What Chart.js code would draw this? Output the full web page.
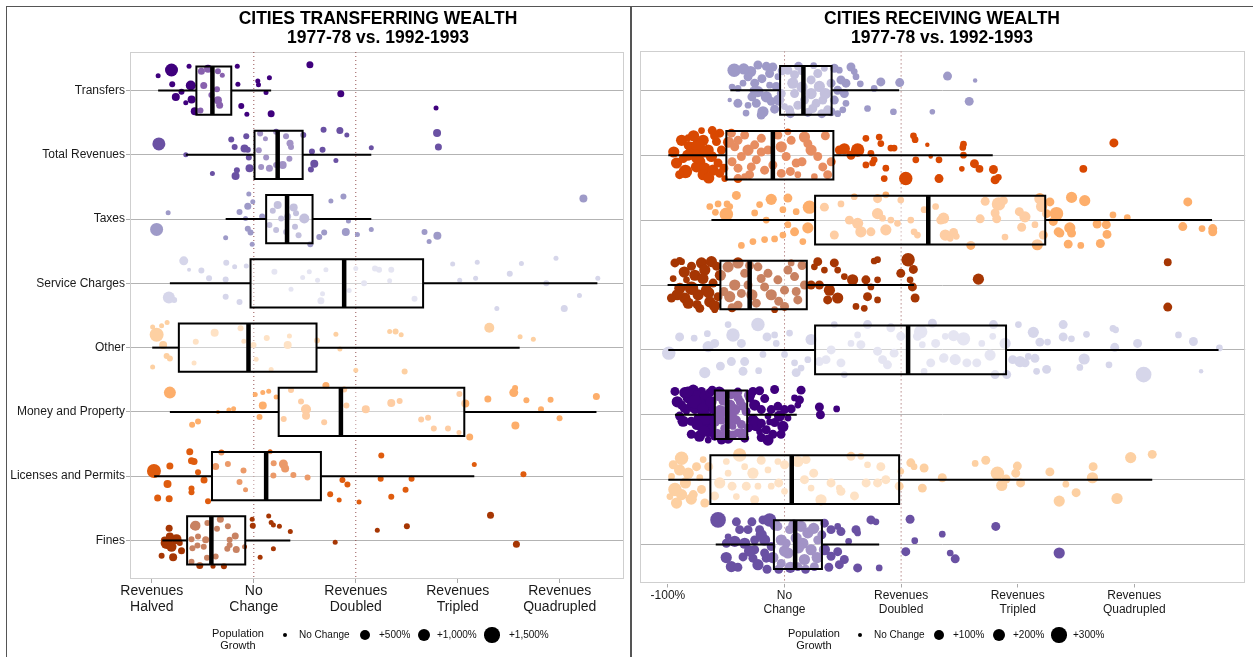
<!DOCTYPE html>
<html><head><meta charset="utf-8">
<script src="https://cdn.jsdelivr.net/npm/chart.js@4.4.1/dist/chart.umd.min.js"></script>
<style>
html,body{margin:0;padding:0;background:#fff;}
#wrap{position:relative;width:1253px;height:657px;overflow:hidden;font-family:"Liberation Sans",Arial,Helvetica,sans-serif;color:#111;background:#fff;}
.frame{position:absolute;border:1px solid #555;box-sizing:border-box;}
canvas{position:absolute;top:0;}
.title{position:absolute;top:9px;font-weight:bold;font-size:17.5px;line-height:19px;text-align:center;white-space:nowrap;transform:translateX(-50%);color:#000;}
.legT{position:absolute;font-size:11px;line-height:12px;text-align:center;white-space:nowrap;transform:translateX(-50%);}
.legL{position:absolute;font-size:10px;line-height:12px;white-space:nowrap;}
.dot{position:absolute;border-radius:50%;background:#000;}
</style></head>
<body><div id="wrap">
<div class="frame" style="left:6px;top:6px;width:625px;height:700px;"></div>
<div class="frame" style="left:631px;top:6px;width:700px;height:700px;"></div>
<canvas id="cL" width="631" height="657" style="left:0;"></canvas>
<canvas id="cR" width="621" height="657" style="left:632px;"></canvas>
<div class="title" style="left:378px;">CITIES TRANSFERRING WEALTH<br>1977-78 vs. 1992-1993</div>
<div class="title" style="left:942px;">CITIES RECEIVING WEALTH<br>1977-78 vs. 1992-1993</div>
<div id="legends"></div>
</div>
<script>
// ---------- categories & ticks ----------
const categories = ["Transfers","Total Revenues","Taxes","Service Charges","Other","Money and Property","Licenses and Permits","Fines"];
const xTickValues = [-100, 0, 100, 200, 300];
const leftTickLabels = [["Revenues","Halved"],["No","Change"],["Revenues","Doubled"],["Revenues","Tripled"],["Revenues","Quadrupled"]];
const rightTickLabels = ["-100%",["No","Change"],["Revenues","Doubled"],["Revenues","Tripled"],["Revenues","Quadrupled"]];
const refLines = [0, 100];

// ---------- box statistics (percent change) ----------
const leftWhiskerLow  = [-93.8,-66.7,-27.6,-82.3,-99.6,-82.3,-97.7,-89.8];
const leftQ1          = [-56.3,  0.7, 12.1, -3.2,-73.5, 24.4,-41.0,-65.4];
const leftMedian      = [-40.6, 23.4, 32.6, 88.6, -5.2, 85.4, 12.1,-41.6];
const leftQ3          = [-22.1, 47.9, 57.6,166.0, 61.5,206.4, 65.8, -8.4];
const leftWhiskerHigh = [ 17.0,115.2,115.2,336.9,260.7,336.0,216.2, 35.8];

const rightWhiskerLow  = [-46.5,-99.7,-62.7,-100.3,-99.7,-94.0,-99.7,-59.0];
const rightQ1          = [ -3.8,-49.9, 26.2, -55.0, 26.2,-59.8,-63.6, -9.1];
const rightMedian      = [ 16.2,-10.0,123.3, -29.9,106.0,-49.1,  6.2,  9.1];
const rightQ3          = [ 40.4, 41.9,223.6,  19.1,190.0,-32.0, 98.3, 32.1];
const rightWhiskerHigh = [ 98.3,178.6,366.7, 111.1,372.3, 10.5,315.4, 81.2];

// ---------- city points: [percent change, vertical jitter, population-growth size] ----------
const transfersL = [[-80.7,-0.32,6.5],[-93.8,-0.23,2.5],[-63.5,-0.38,2.5],[-80,-0.1,3],[-61.8,-0.08,5],[-70.9,0.02,3],[-76.5,0.1,4],[-61,0.14,4],[-66.7,0.19,2.5],[-57.9,0.32,4],[-51.4,-0.3,3.5],[-44.9,-0.34,4],[-35.2,-0.3,3],[-30.9,-0.24,2.5],[-49.1,-0.08,3.5],[-36.1,-0.02,3],[-35.2,0.15,4],[-33.5,0.23,3.5],[-52.3,0.31,3],[-41.6,0.07,3],[-16.2,-0.38,2.5],[-15.6,-0.1,2.5],[-12.3,0.24,3],[-6.8,0.37,2.5],[3.9,-0.15,2.5],[4.6,-0.09,2.5],[15.3,-0.2,2.5],[17,0.36,3.5],[12,0.03,2.5],[55,-0.4,3.5],[85.3,0.05,3.5],[178.7,0.27,2.5]];
const totalRevL = [[-93.1,-0.17,6.5],[-66.7,0,2.5],[-40.6,0.29,2.5],[-22.1,-0.24,3],[-18.8,-0.12,3],[-7.4,-0.29,3],[-9.1,-0.1,4],[-5.9,-0.08,3],[-4.9,0.04,3],[-4.2,0.21,4],[-16.6,0.24,3],[-17.9,0.33,4],[6.2,-0.33,3],[11.4,-0.25,2.5],[21.9,-0.36,3],[31.6,-0.29,3],[35.5,-0.18,3.5],[36.5,-0.12,3],[12.1,0.04,3],[15.3,0.21,3.5],[21.9,0.16,3],[28.3,0.16,4],[34.9,0.06,3],[7.2,0.19,3],[4.9,-0.07,3],[48.5,-0.31,3],[57,-0.05,3],[68.4,-0.39,3],[67.4,-0.08,3],[59.3,0.14,4],[56,0.23,3],[84.4,-0.38,3.5],[91.2,-0.31,2.5],[80.5,0.09,2.5],[115.2,-0.11,2.5],[179.7,-0.34,4],[181,-0.12,3.5]];
const taxesL = [[-84,-0.1,2.5],[-95.3,0.16,6.5],[-27.6,0.29,2.5],[-4.9,-0.39,2.5],[-1,-0.27,2.5],[-5.9,-0.2,3.5],[-14,-0.11,3],[-8.1,-0.01,2.5],[-5.9,0.15,3],[-3.2,0.21,3],[-1.6,0.39,2.5],[8.2,-0.04,3],[23.4,-0.22,4],[18.6,-0.13,3],[39.1,-0.18,4],[41.4,-0.09,3],[49.5,-0.01,5],[26.8,-0.01,3],[15.3,0.09,3],[21.9,0.17,3],[31.6,0.2,3],[43.9,0.25,3],[33.2,-0.04,3.5],[40.4,0.12,3],[55.4,0.39,3],[64.2,0.28,3],[69,0.21,3],[75.6,-0.28,2.5],[87.9,-0.35,3],[92.8,0.03,2.5],[90.2,0.2,4],[101.6,0.24,2.5],[115.2,0.16,2.5],[167.4,0.2,3],[171.9,0.35,2.5],[180,0.26,4],[323.2,-0.32,4]];
const serviceL = [[-68.7,-0.35,4.5],[-63.5,-0.21,2],[-51.4,-0.2,3],[-43.9,-0.08,3],[-27,-0.32,3],[-18.8,-0.26,2.5],[-27.6,-0.06,3],[-7.4,-0.27,2.5],[-83.3,0.22,6],[-78.1,0.26,3],[-27.6,0.21,3],[-14,0.29,3],[20.2,-0.18,3],[47.9,-0.09,2.5],[54.4,-0.18,2.5],[70.7,-0.21,2.5],[62.5,-0.05,2.5],[36.5,0.09,2.5],[65.8,0.27,3.5],[67.4,0.16,2.5],[93.5,0.11,2.5],[108.1,0,3],[119.5,-0.23,2.5],[100,-0.23,2.5],[118.8,-0.23,3],[122.8,-0.21,3],[134.8,-0.21,3],[133.2,-0.04,2.5],[157.6,0.24,3],[195,-0.3,2.5],[201.9,-0.05,2.5],[219.1,-0.33,2.5],[217.5,-0.08,2.5],[238.3,0.39,2.5],[251,-0.15,3],[262.4,-0.31,2.5],[286.8,0,3],[296.3,-0.39,2.5],[304.4,0.39,3.5],[319.3,0.19,2.5],[337.3,-0.08,2.5]];
const otherL = [[-95.3,-0.2,7],[-90.4,-0.34,2.5],[-99.2,-0.32,2.5],[-85,-0.39,2.5],[-88.9,-0.04,4],[-85.5,0.13,3],[-82.3,0.17,3],[-99.2,0.3,2.5],[-56.9,-0.09,3],[-38.4,-0.23,4],[-58.6,0.24,2.5],[-13,-0.3,3],[-9.8,-0.1,2.5],[-0.3,-0.04,3],[12.7,-0.15,3],[2.3,0.18,2.5],[17,0.34,2.5],[34.9,-0.18,2.5],[33.2,-0.04,4],[61.9,-0.11,3],[80.5,-0.21,2.5],[84.4,0.02,2.5],[100,0.35,2.5],[133.2,-0.25,2.5],[139,-0.25,3],[144.5,-0.2,2.5],[230.9,-0.31,5],[261.1,-0.17,2.5],[274.1,-0.13,2.5],[147.9,0.37,3]];
const moneyL = [[-82.3,-0.3,6],[-60.5,0.2,3],[-54.7,0.15,3],[-35.2,0,2],[-24.4,-0.03,2.5],[-19.8,-0.05,2.5],[1.4,-0.27,2.5],[8.8,-0.3,2.5],[14.6,-0.32,2.5],[8.8,-0.1,4],[5.6,0.08,3],[21.9,-0.23,2.5],[36.5,-0.34,3],[46.3,-0.16,3],[51.2,-0.04,5],[51.2,0.06,4],[29.3,0.11,3],[70.7,-0.41,3.5],[69,0.16,3],[90.8,-0.1,3],[109.8,-0.04,4],[88.6,-0.35,3],[134.8,-0.14,4],[143,-0.17,3],[164.1,0.12,3],[170.9,0.09,3],[176.5,0.26,3],[190.4,0.26,3],[201.6,-0.28,3],[201.2,0.32,2.5],[207.4,-0.13,4],[211.7,0.39,3.5],[229.5,-0.2,3.5],[254.9,-0.3,4.5],[256.2,-0.37,3],[267.3,-0.18,3],[281.6,-0.04,3],[291,-0.19,3],[256.5,0.21,4],[299.8,0.1,3],[335.9,-0.24,3.5]];
const licensesL = [[-97.9,-0.08,7],[-82.3,-0.16,3.5],[-62.8,-0.38,3.5],[-61.1,-0.24,3.5],[-58.6,-0.23,3.5],[-54.7,-0.06,3],[-48.8,0.06,3.5],[-84.6,0.12,4],[-61.1,0.19,3],[-61.1,0.25,3],[-94.3,0.34,3.5],[-83,0.35,3.5],[-44.9,0.39,3],[-37.4,-0.15,3.5],[-31.8,-0.37,3],[-25.4,-0.19,3],[-10.1,-0.09,3],[-14,0.09,3],[-8.1,0.21,2.5],[19.5,-0.2,3],[29,-0.19,4.5],[30.7,-0.12,4],[19.2,-0.01,3],[38.8,-0.02,3],[52.7,0.02,3],[16,-0.38,2.5],[86.9,0.06,3],[91.8,0.13,3],[74.9,0.28,3],[83.7,0.37,2.5],[103.2,0.4,2.5],[125,-0.32,3],[124.4,0.04,3],[154.7,0.04,3],[148.8,0.21,3],[134.8,0.32,3],[216.2,-0.18,2.5],[264.4,-0.03,3]];
const finesL = [[-83,-0.19,3.5],[-85.5,0.04,6],[-80.7,0.1,5],[-75.8,-0.02,5],[-79.1,0.26,4],[-70.9,0.16,3.5],[-90.4,0.24,3],[-87.2,0,4],[-82.3,-0.06,4],[-72.6,0.04,3],[-59.6,-0.22,3],[-57.2,-0.23,5],[-61.1,-0.02,3],[-54.7,-0.06,3],[-55.3,0.08,3],[-60.2,0.12,3],[-47.2,-0.01,3.5],[-49.1,0.1,3],[-36.1,-0.18,3],[-32.8,-0.33,3.5],[-25.4,-0.22,3],[-23.7,-0.01,3],[-18.2,-0.07,3.5],[-17.2,0.14,3.5],[-23.7,0.07,3],[-26,0.13,3],[-45.5,-0.27,3],[-53,0.39,3.5],[-40,0.4,2.5],[-29.3,0.4,3],[-45.9,0.27,3],[-37.4,0.25,3],[-61.1,0.33,3],[-9.1,0.1,2.5],[-1.6,-0.33,2.5],[-1,-0.23,3],[14.6,-0.38,2.5],[17,-0.28,2.5],[19.2,-0.24,2.5],[25.1,-0.22,2.5],[35.8,-0.14,2.5],[19.2,0.13,2.5],[6.2,0.26,2.5],[79.8,0.03,2.5],[121.1,-0.16,2.5],[232.1,-0.39,3.5],[150.1,-0.22,3],[257.5,0.06,3.5]];

const transfersR = [[-43.2,-0.31,6],[-29.1,-0.29,5],[-22.8,-0.39,4],[-15.6,-0.37,4],[-12.8,-0.26,4],[-19.4,-0.18,4],[-25.6,-0.11,4],[-22.8,0.02,5],[-27.1,0,3],[-15.6,0.1,5],[-11.4,0.17,4],[-18.5,0.33,5],[-8.5,0.29,4],[-31.3,0.23,3],[-24.2,0.2,4],[-47,0.15,2],[-7.1,-0.06,4],[-5.7,-0.21,3],[-35.6,-0.11,3],[-39.9,-0.03,3],[2.9,-0.31,4],[8.6,-0.24,4],[7.1,-0.11,5],[14.2,-0.29,3],[22.8,-0.16,4],[28.5,-0.26,4],[34.2,-0.34,3],[8.6,0.05,4],[22.8,0.05,5],[29.9,-0.06,5],[32.8,0.15,4],[11.4,0.23,4],[24.2,0.28,4],[4.3,0.3,4],[17.1,0.15,4],[27.1,0.2,4],[37,0.3,4],[42.7,-0.34,4],[47,-0.31,3],[57,-0.36,4],[59.8,-0.29,3],[48.4,-0.16,4],[52.7,-0.11,4],[45.6,0,4],[42.7,0.15,4],[39.9,0.33,4],[45.6,0.36,3],[52.7,0.2,3],[61.3,-0.21,3],[71.2,0.28,3],[76.9,-0.03,3],[82.6,-0.13,4],[93.4,0.33,3],[98.8,-0.12,4],[139.8,-0.22,4],[163.5,-0.15,2],[158.4,0.17,4],[126.8,0.33,2.5],[-2.8,0.05,4],[0,0.25,3],[-12.8,-0.08,3],[39.9,-0.11,4],[51.3,0.05,4],[-31.3,-0.21,4],
  [-35,-0.33,5],[-10,-0.36,4],[-2,-0.3,4],[5,0.36,4],[20,0.34,4],[32,0.36,4],[-20,0.38,4],[-40,0.2,4],[-28,0.1,4],[-5,0.15,5],[15,-0.05,5],[35,0.05,5],[50,0.3,3],[65,-0.1,3],[-45,-0.05,3],[12,-0.37,4],[25,-0.38,3],[-33,0.35,3]];
const totalRevR = [[-88.3,-0.23,5],[-79.8,-0.12,5],[-82.6,-0.15,4],[-71.2,-0.38,3],[-69.8,-0.23,5],[-74.1,-0.15,6],[-65.5,-0.08,5],[-58.4,-0.21,4],[-55.6,-0.34,4],[-54.1,-0.08,4],[-62.7,0.02,5],[-72.7,0.1,5],[-75.5,0.18,5],[-68.4,0.2,5],[-61.3,0.23,5],[-57,0.12,4],[-92.6,0.12,5],[-86.9,0.05,4],[-69.8,0.3,5],[-55.6,0.28,4],[-39.9,0.36,4],[-51.3,0.36,3],[-82.6,-0.27,3],[-45.6,-0.34,4],[-39.9,-0.23,4],[-34.2,-0.31,4],[-42.7,-0.13,4],[-31.3,-0.08,5],[-37,0.02,4],[-25.6,-0.16,4],[-19.9,-0.26,4],[-24.2,0.07,4],[-28.5,0.18,4],[-39.9,0.2,4],[-14.2,-0.08,4],[-17.1,0.23,4],[-5.7,-0.31,4],[-2.8,-0.13,5],[1.4,0.02,4],[5.7,-0.23,4],[10,0.12,4],[17.1,-0.28,5],[22.8,-0.08,5],[20,-0.18,4],[28.5,0.02,4],[32.8,0.18,4],[11.4,0.3,3],[-2.8,0.28,4],[25.6,0.33,3],[37,0.3,4],[2.9,-0.36,3],[-34.2,0.33,3],[47,-0.08,4],[51.3,-0.1,5],[62.7,-0.08,6],[57,0,4],[69.8,-0.26,3],[81.2,-0.28,3],[82.6,-0.18,3],[74.1,-0.03,3],[76.9,0.07,3],[69.8,0.15,3],[75.5,0.12,3],[86.9,0.2,3],[91.2,-0.11,3],[94,-0.11,3],[85.5,0.36,3],[104,0.36,6],[110.6,-0.3,3],[112,-0.24,3],[112.6,0.07,3],[122.5,-0.16,2],[125.4,0.02,2],[132.5,0.07,3],[132.5,0.36,4],[153.5,-0.17,3],[152.9,-0.12,3],[153.5,0,3],[152.1,0.21,2.5],[162.9,0.13,4],[167.2,0.21,3.5],[179.2,0.22,4],[180.6,0.38,4],[183.4,0.34,3],[256.3,0.21,3.5],[282.5,-0.19,4],
  [-95,-0.05,5],[-85,0.25,6],[-78,-0.3,5],[-65,0.35,5],[-60,-0.3,4],[-90,0.3,4],[-75,0.02,6],[-83,0,5],[-68,-0.05,5],[-52,0.2,4],[-48,-0.2,5],[-45,0.1,4],[-30,0.3,4],[-10,0.15,4],[-20,-0.05,4],[5,0.25,4],[15,0.1,4],[35,-0.3,4],[40,0.1,4],[-62,-0.38,4]];
const taxesR = [[-41.3,-0.38,4],[-57,-0.25,3],[-64.1,-0.21,3],[-49.3,-0.25,3],[-49.9,-0.09,6],[-59.3,-0.12,3],[-47,-0.21,3],[-25.6,-0.11,3],[-21.4,-0.24,3],[-11.4,-0.32,5],[-15.7,0,3],[2.9,-0.34,4],[-1.4,-0.16,3],[10,-0.13,3],[8.6,0.18,4],[2.9,0.07,3],[-1.4,0.23,3],[21.4,-0.2,6],[20,0.12,5],[15.7,0.33,3],[-8.5,0.29,3],[-17.1,0.3,3],[-37,0.39,3],[-27.1,0.33,3],[34.2,-0.2,4],[48.4,-0.25,3],[59.8,-0.36,3],[79.8,-0.33,4],[86.9,-0.39,3],[99.7,-0.31,3],[55.6,0,4],[62.7,0.05,5],[79.8,-0.1,5],[84.1,-0.03,3],[91.2,0,3],[108.3,0,3],[119.7,-0.16,3],[42.7,0.23,4],[65.5,0.18,5],[74.1,0.18,4],[86.9,0.15,5],[96.9,0.05,3],[111.1,0.18,3],[114,0.23,3],[129.6,-0.21,3],[134,0,4],[172.1,-0.29,4],[183.5,-0.25,6],[187.7,-0.3,4],[180.6,-0.11,4],[182,-0.02,4],[201.4,-0.13,4],[206.2,-0.05,5],[203.4,0.11,4],[189.1,0.26,3],[167.8,-0.02,4],[136.4,-0.03,5],[137.9,0.23,5],[145,0.19,4],[142.1,0.28,3],[147.3,0.25,3],[159.8,0.39,4],[214.8,0.07,3],[219,-0.33,5],[220.5,-0.21,5],[221.9,0.23,4],[216.8,0.38,5],[227.6,-0.28,4],[224.7,-0.1,4],[233.3,-0.1,6],[230.5,0.02,4],[234.7,0.18,4],[236.2,0.2,4],[243.3,0.37,4],[246.2,-0.35,5],[257.5,-0.3,5],[244.7,0.12,5],[246.2,0.2,4],[254.1,0.39,3],[268.1,0.06,4],[276,0.07,4],[276.6,0.22,4],[270.9,0.36,4],[281.7,-0.08,3],[294,-0.04,3],[345.9,-0.28,4],[341.6,0.1,4],[358.1,0.13,3],[367.3,0.13,4],[367.3,0.18,4]];
const serviceR = [[-94,-0.34,4],[-88.3,-0.36,3],[-79.8,-0.29,4],[-71.2,-0.34,5],[-62.7,-0.36,5],[-68.4,-0.23,5],[-58.4,-0.29,4],[-76.9,-0.15,5],[-84.1,-0.08,3],[-89.8,0.05,5],[-79.8,0.05,6],[-85.5,0.2,5],[-74.1,0.15,5],[-67,0.08,5],[-61.3,-0.03,4],[-82.6,0.28,5],[-72.7,0.36,4],[-64.1,0.26,5],[-57,0.18,4],[-95.5,-0.1,3],[-59.9,0.38,3],[-48.4,-0.28,5],[-39.9,-0.34,5],[-34.2,-0.18,4],[-42.7,0,5],[-31.3,0,4],[-47,0.18,5],[-37,0.13,4],[-39.9,0.31,4],[-22.8,-0.28,4],[-14.2,-0.18,4],[-17.1,0.03,4],[-11.4,0.15,5],[-5.7,-0.08,4],[2.9,-0.23,4],[8.6,-0.13,4],[0,0.08,4],[11.4,0.23,4],[17.1,0,4],[-24.2,0.28,4],[0,0.33,4],[-8.5,0.38,3],[5.7,-0.34,3],[28.5,-0.36,4],[25.6,-0.28,3],[22.8,0,4],[34.2,-0.23,3],[29.9,0,4],[38.5,0.08,5],[42.7,-0.34,4],[45.6,-0.23,3],[51.3,-0.13,3],[58.4,-0.08,5],[69.8,-0.08,4],[79.8,-0.08,3],[74.1,0.03,3],[71.2,0.18,4],[79.8,0.23,3],[45.6,0.2,5],[37,0.23,4],[61.3,0.33,3],[68.4,0.36,3],[76.9,-0.37,3],[79.8,-0.39,3],[99.7,-0.18,4],[106,-0.39,6],[110.5,-0.24,4],[107.7,-0.08,3],[109.7,0.03,4],[112,0.2,4],[166.3,-0.09,5],[328.7,-0.35,3.5],[328.7,0.34,4],
  [-92,0.15,5],[-86,-0.2,5],[-75,0.3,4],[-70,-0.1,5],[-65,0.12,5],[-78,0.08,4],[-90,-0.38,3],[-55,-0.15,5],[-52,0.1,4],[-45,0.35,4],[-30,-0.3,4],[-28,0.15,5],[-20,-0.1,4],[-5,0.25,4],[10,0.1,4],[15,-0.3,4],[-97,0.2,4],[-60,0.32,5]];
const otherR = [[-99.3,0.05,6],[-77.5,-0.18,3],[-66.2,-0.25,3],[-65.5,-0.05,5],[-59.9,-0.1,4],[-48.4,-0.39,3],[-44.2,-0.23,6],[-37,-0.1,4],[-34.2,0.18,4],[-35.6,0.33,4],[-45.6,0.18,4],[-68.4,0.35,5],[-22.8,-0.39,6],[-18.5,0.07,3],[-22.2,0.32,3],[-8.5,-0.23,3],[-7.1,-0.1,3],[4.3,-0.26,3],[0,0.07,3],[8.6,0.2,3],[14.2,0.28,3],[20,0.15,3],[22.8,-0.16,5],[29.9,0.18,4],[35.6,0.15,4],[42.7,-0.39,3],[51.3,0.38,3],[48.4,0.2,4],[57,-0.1,3],[62.7,-0.23,3],[65.5,-0.08,4],[71.2,-0.39,4],[79.8,0.02,4],[84.1,0.15,4],[88.3,0.23,4],[91.2,-0.34,4],[94,0.05,4],[99.7,-0.21,4],[114,-0.21,4],[116.8,-0.28,6],[118.2,-0.08,3],[125.4,0.2,4],[129.6,-0.1,4],[126.8,-0.41,4],[136.8,0.12,4],[119.7,0.33,3],[137.9,-0.21,3],[145,-0.22,5],[153.5,-0.17,6],[146.4,0.15,5],[136.4,0.13,4],[156.4,0.2,4],[164.9,0.2,4],[169.2,-0.1,3],[176.3,0.08,5],[179.2,-0.39,4],[178.6,-0.21,3],[189.2,-0.1,5],[190.6,0.38,4],[180.6,0.38,4],[195.7,0.15,4],[202,0.18,5],[206.3,0.2,4],[200.6,-0.39,3],[209.1,0.1,3],[213.4,-0.27,5],[214.8,0.13,4],[219,-0.12,4],[225.6,-0.12,3],[224.8,0.3,4],[216.2,0.33,3],[239,-0.39,4],[239,-0.2,4],[246.1,-0.17,3],[257,0.14,5],[259,-0.24,3],[253.3,0.27,3],[278.3,0.23,3],[283.2,-0.04,4],[281.7,-0.33,3],[284,-0.31,3],[302.8,-0.1,4],[308,0.38,7],[337.9,-0.23,3],[350.7,-0.13,4],[357.3,0.33,2],[373,-0.03,3],
  [-90,-0.2,4],[-55,0.25,4],[-15,-0.2,4],[10,0.35,4],[40,0,4]];
const moneyR = [[-94,-0.36,4],[-85.5,-0.34,5],[-78.3,-0.38,5],[-71.2,-0.36,4],[-82.6,-0.26,5],[-75.5,-0.27,6],[-68.4,-0.28,5],[-64.1,-0.34,4],[-88.3,-0.15,4],[-79.8,-0.13,5],[-72.7,-0.18,5],[-65.5,-0.13,5],[-84.1,-0.05,3],[-76.9,-0.08,4],[-69.8,-0.05,5],[-61.3,-0.08,4],[-74.1,0.05,4],[-68.4,0.13,5],[-64.1,0.08,5],[-71.2,0.21,4],[-65.5,0.26,5],[-59.9,0.33,4],[-65.5,0.39,3],[-54.1,0.39,4],[-48.4,0.36,5],[-44.2,0.31,4],[-39.9,0.28,4],[-34.2,0.36,4],[-27.1,-0.36,4],[-21.4,-0.37,4],[-29.9,-0.26,4],[-25.6,-0.15,5],[-19.9,-0.08,4],[-27.1,0.08,5],[-24.2,0.15,6],[-19.9,0.13,4],[-14.2,0.02,3],[-11.4,-0.08,4],[-8.5,-0.39,4],[-5.7,-0.13,4],[-4.3,0.02,5],[-15.7,0.23,4],[-21.4,0.26,3],[-12.8,0.11,3],[-8.5,0.12,4],[0,-0.08,4],[-1.4,0.18,5],[5.7,-0.09,4],[8.6,-0.26,3],[14.2,-0.38,4],[12.8,-0.23,4],[11.4,-0.15,3],[-14.2,0.39,5],[29.9,-0.12,4],[30.8,0,4],[44.7,-0.09,3],[-57,-0.28,4],[-52.7,-0.21,4],[-45.6,-0.31,4],[-39.9,-0.26,4],[-55.6,-0.08,4],[-42.7,-0.08,5],[-35.6,-0.13,4],[-54.1,0.08,4],[-41.3,0.08,4],[-37,0.15,4],[-51.3,0.21,4],[-44.2,0.18,3],[-90,0.02,4],[-80,0.1,4],[-58,-0.02,4],[-48,0,4],[-62,0.2,4],
  [-92,-0.2,5],[-87,0.1,5],[-83,-0.35,5],[-80,0.3,4],[-77,-0.2,6],[-73,0.33,5],[-70,-0.1,5],[-67,0.05,6],[-63,-0.2,5],[-60,0.1,5],[-58,0.3,5],[-56,-0.35,5],[-53,-0.05,5],[-50,0.3,5],[-47,-0.15,5],[-45,0.05,5],[-40,-0.35,4],[-36,0.3,5],[-33,-0.05,4],[-31,0.2,4],[-30,-0.3,5],[-75,0.15,5],[-86,-0.1,4],[-62,-0.38,4],[-69,0.25,5],[-48,0.15,4],[-38,-0.2,4],[-52,-0.3,4],[-20,0.35,4],[-10,0.3,4],[-3,0.3,4],[3,0.05,3],[-17,-0.25,4]];
const licensesR = [[-95.5,-0.23,4],[-88.3,-0.33,6],[-96.9,-0.05,3],[-82.6,-0.1,5],[-75.5,-0.2,4],[-69.8,-0.31,3],[-72.7,-0.03,3],[-94,0.15,6],[-88.3,0.23,5],[-98.3,0.26,3],[-92.6,0.36,5],[-78.3,0.23,4],[-71.2,0.15,4],[-68.4,0.36,4],[-55.6,0.05,5],[-49.9,-0.28,3],[-48.4,-0.1,3],[-38.5,-0.38,6],[-34.2,-0.2,3],[-27.1,-0.1,5],[-22.8,0.1,3],[-32.8,0.1,4],[-41.3,0.26,3],[-25.6,0.31,4],[-14.2,-0.15,3],[-11.4,0.1,3],[-5.7,-0.28,3],[0,-0.23,4],[0,0.18,3],[11.4,-0.28,5],[18.5,-0.31,4],[17.1,0,4],[22.8,0.13,3],[31.3,0.31,5],[39.9,0.05,4],[47,0.13,3],[48.4,0.18,4],[57,-0.36,4],[65.5,-0.36,3],[71.2,-0.23,3],[79.8,0.05,4],[82.6,-0.2,4],[86.9,0,4],[98.3,0.1,4],[99.7,-0.13,3],[108.3,-0.26,4],[111.1,-0.2,3],[118.2,0.13,4],[119.7,-0.18,4],[135.3,-0.03,4],[163.5,-0.25,3],[172.6,-0.3,4],[182.6,-0.1,6],[186.3,0.09,5],[190,-0.01,4],[198.3,-0.1,4],[199.7,-0.21,4],[202.5,0.05,4],[227.6,-0.12,4],[235.6,0.33,5],[241.3,0.07,3],[250.1,0.2,4],[264.7,-0.2,4],[264.1,-0.03,5],[285.2,0.29,5],[296.9,-0.34,5],[315.4,-0.39,4],
  [-90,-0.15,5],[-80,0.3,5],[-85,0.05,5],[-65,-0.2,4],[-60,0.25,4],[-45,0.1,4],[-20,-0.3,4],[-5,0.05,4],[25,-0.1,4],[60,0.25,4],[70,0.05,4]];
const finesR = [[-57,-0.38,7],[-48.4,-0.12,3],[-41.3,-0.35,4],[-38.5,-0.23,4],[-31.3,-0.23,4],[-49.9,-0.02,4],[-42.7,-0.05,5],[-34.2,-0.02,5],[-25.6,-0.07,4],[-18.5,-0.38,4],[-12.8,-0.38,6],[-21.4,-0.23,4],[-17.1,-0.07,5],[-11.4,0.03,4],[-45.6,0.34,5],[-35.6,0.19,4],[-27.1,0.21,4],[-22.8,0.31,5],[-15.7,0.21,4],[-25.6,0.08,4],[-17.1,0.13,4],[-5.7,-0.28,4],[-2.8,-0.07,5],[1.4,-0.02,4],[2.9,0.13,5],[-2.8,0.29,4],[14.2,-0.28,5],[20,-0.18,5],[15.7,-0.02,5],[22.8,0.08,5],[17.1,0.23,5],[25.6,0.34,4],[28.5,-0.07,4],[11.4,0.34,4],[4.3,-0.23,4],[34.2,-0.33,4],[39.9,-0.23,4],[45.6,-0.28,3],[48.4,-0.2,4],[61.3,-0.23,4],[62.7,-0.18,3],[34.2,0.08,5],[39.9,0.18,4],[45.6,0.11,4],[51.3,0.23,4],[47,0.31,4],[62.7,0.36,4],[74.1,-0.38,4],[78.4,-0.35,3],[81.2,0.36,3],[107.7,-0.39,4],[111.7,-0.06,3],[135.3,-0.16,3],[104,0.11,4],[142.1,0.13,3],[146.4,0.22,4],[181.2,-0.28,4],[235.6,0.13,5],
  [-50,0.2,5],[-40,0.35,4],[-30,0.1,5],[-20,-0.15,5],[-10,0.2,5],[-8,-0.3,5],[0,0.1,5],[5,0.35,5],[8,-0.3,5],[12,0.05,5],[18,0.38,4],[25,-0.25,5],[28,0.2,5],[32,-0.15,4],[-5,0.38,4],[10,-0.1,5],[-15,0.38,4],[-28,-0.35,4],[38,0.35,4],[55,-0.05,3]];

// ---------- legend ----------
const leftLegendLabels = ["No Change","+500%","+1,000%","+1,500%"];
const rightLegendLabels = ["No Change","+100%","+200%","+300%"];
const legendSizes = [2.3, 5, 6.4, 7.6];

// ---------- colours ----------
const leftColors  = ['#3f007d','#6a51a3','#9e9ac8','#d6d6ea','#fdd0a2','#fdae6b','#df5c0e','#a63603'];
const rightColors = ['#9e9ac8','#d94801','#fdae6b','#a63603','#d6d6ea','#3f007d','#fdd0a2','#6a51a3'];

const Y_MIN = -0.6, Y_MAX = 7.6, HALF = 0.375;
Chart.defaults.font.family = '"Liberation Sans", Arial, Helvetica, sans-serif';

function buildDatasets(lo, q1, med, q3, hi, pts, colors, sizeScale) {
  const ds = [];
  refLines.forEach(v => ds.push({type:'line', data:[{x:v,y:Y_MIN},{x:v,y:Y_MAX}], borderColor:'rgba(130,50,50,0.85)', borderWidth:1, borderDash:[1,3], pointRadius:0, fill:false, order:100}));
  pts.forEach((arr, i) => ds.push({type:'bubble', data: arr.map(p => ({x:p[0], y:i + p[1], r:p[2]*sizeScale})), backgroundColor: colors[i], borderWidth:0, hoverRadius:0, order:50}));
  categories.forEach((c, i) => {
    ds.push({type:'line', data:[{x:q1[i],y:i-HALF},{x:q3[i],y:i-HALF},{x:q3[i],y:i+HALF},{x:q1[i],y:i+HALF},{x:q1[i],y:i-HALF},{x:q3[i],y:i-HALF}],
      borderColor:'#000', borderWidth:2, borderJoinStyle:'miter', fill:'shape', backgroundColor:'rgba(255,255,255,0.38)', pointRadius:0, tension:0, order:20});
    ds.push({type:'line', data:[{x:med[i],y:i-HALF},{x:med[i],y:i+HALF}], borderColor:'#000', borderWidth:4.5, borderCapStyle:'butt', pointRadius:0, fill:false, order:10});
    ds.push({type:'line', data:[{x:lo[i],y:i},{x:q1[i],y:i}], borderColor:'#000', borderWidth:2, pointRadius:0, fill:false, order:10});
    ds.push({type:'line', data:[{x:q3[i],y:i},{x:hi[i],y:i}], borderColor:'#000', borderWidth:2, pointRadius:0, fill:false, order:10});
  });
  return ds;
}

const plotFrame = {id:'plotFrame', beforeDatasetsDraw(chart){ const {ctx, chartArea:a} = chart; ctx.save(); ctx.strokeStyle='#cfcfcf'; ctx.lineWidth=1; ctx.strokeRect(Math.round(a.left)+0.5, Math.round(a.top)+0.5, Math.round(a.right-a.left)-1, Math.round(a.bottom-a.top)-1); ctx.restore(); }};

function makeChart(id, cfg) {
  return new Chart(document.getElementById(id), {
    type: 'bubble',
    data: { datasets: buildDatasets(cfg.lo, cfg.q1, cfg.med, cfg.q3, cfg.hi, cfg.pts, cfg.colors, cfg.sizeScale) },
    plugins: [plotFrame],
    options: {
      responsive:false, animation:false, events:[], devicePixelRatio:1,
      layout:{ padding: cfg.padding },
      plugins:{ legend:{display:false}, tooltip:{enabled:false}, title:{display:false} },
      scales:{
        x:{ type:'linear', min:cfg.xmin, max:cfg.xmax,
            afterBuildTicks: s => { s.ticks = xTickValues.map(v => ({value:v})); },
            afterFit: s => { s.height = cfg.xHeight; },
            grid:{ drawOnChartArea:false, drawTicks:true, tickLength:4, tickColor:'#aaa', lineWidth:1 },
            border:{ display:false },
            ticks:{ autoSkip:false, maxRotation:0, minRotation:0, padding:cfg.xPad, color:'#1a1a1a',
                    font:{ size:cfg.xFont, lineHeight:cfg.xLine },
                    callback: (v) => cfg.tickLabels[xTickValues.indexOf(v)] } },
        y:{ type:'linear', min:Y_MIN, max:Y_MAX, reverse:true,
            afterBuildTicks: s => { s.ticks = categories.map((c,i) => ({value:i})); },
            afterFit: s => { s.width = cfg.yWidth; },
            grid:{ color:'#b3b3b3', lineWidth:1, drawTicks:cfg.showY, tickLength:4, tickColor:'#aaa' },
            border:{ display:false },
            ticks:{ display:cfg.showY, padding:1, color:'#1a1a1a', font:{size:12}, callback: (v) => categories[v] } }
      }
    }
  });
}

makeChart('cL', { lo:leftWhiskerLow, q1:leftQ1, med:leftMedian, q3:leftQ3, hi:leftWhiskerHigh,
  pts:[transfersL,totalRevL,taxesL,serviceL,otherL,moneyL,licensesL,finesL], colors:leftColors, sizeScale:1,
  xmin:-121.4, xmax:363, padding:{top:52,left:0,right:5,bottom:0}, xHeight:78, yWidth:130, showY:true,
  tickLabels:leftTickLabels, xFont:14, xLine:1.08, xPad:1 });
makeChart('cR', { lo:rightWhiskerLow, q1:rightQ1, med:rightMedian, q3:rightQ3, hi:rightWhiskerHigh,
  pts:[transfersR,totalRevR,taxesR,serviceR,otherR,moneyR,licensesR,finesR], colors:rightColors, sizeScale:1.12,
  xmin:-124.1, xmax:395.1, padding:{top:51.4,left:6.5,right:7,bottom:0}, xHeight:73.5, yWidth:0, showY:false,
  tickLabels:rightTickLabels, xFont:12, xLine:1.1, xPad:2 });

// ---------- legends ----------
function legend(titleX, dotXs, textXs, labels) {
  const host = document.getElementById('legends');
  const t = document.createElement('div'); t.className='legT'; t.style.left=titleX+'px'; t.style.top='627px';
  t.innerHTML='Population<br>Growth'; host.appendChild(t);
  labels.forEach((lab, k) => {
    const r = legendSizes[k];
    const d = document.createElement('div'); d.className='dot';
    d.style.left=(dotXs[k]-r)+'px'; d.style.top=(635-r)+'px'; d.style.width=(2*r)+'px'; d.style.height=(2*r)+'px';
    host.appendChild(d);
    const s = document.createElement('div'); s.className='legL'; s.style.left=textXs[k]+'px'; s.style.top='629px';
    s.textContent=lab; host.appendChild(s);
  });
}
legend(238, [285,365,424,492], [299,379,437,509], leftLegendLabels);
legend(814, [860,939,999,1059], [874,953,1013,1073], rightLegendLabels);
</script>
</body></html>
